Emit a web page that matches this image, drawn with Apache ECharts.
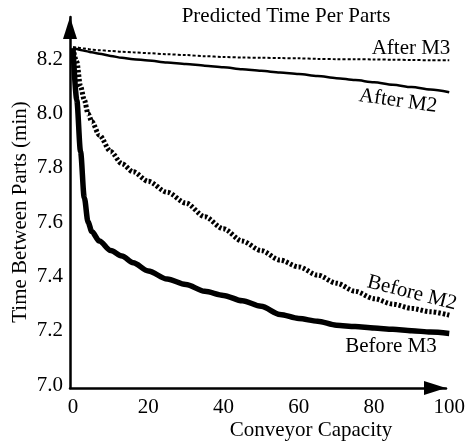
<!DOCTYPE html>
<html>
<head>
<meta charset="utf-8">
<script src="https://cdn.jsdelivr.net/npm/echarts@6/dist/echarts.min.js"></script>
<style>
  html, body { margin: 0; padding: 0; background: #fff; }
  #chart { width: 468px; height: 444px; }
</style>
</head>
<body>
<div id="chart"></div>
<script>
// conveyor capacity (x)
var capacity = [0, 1, 2, 3, 4, 5, 7, 10, 13, 16, 20, 25, 30, 35, 40, 45, 50, 55, 60, 65, 70, 75, 80, 85, 90, 95, 100];

// time between parts (min)
var afterM3 = [8.245, 8.243, 8.241, 8.239, 8.237, 8.235, 8.233, 8.23, 8.227, 8.225, 8.222, 8.218, 8.215, 8.211, 8.208, 8.206, 8.205, 8.204, 8.203, 8.201, 8.2, 8.2, 8.199, 8.198, 8.197, 8.196, 8.196];
var afterM2 = [8.24, 8.237, 8.234, 8.231, 8.228, 8.225, 8.22, 8.212, 8.205, 8.2, 8.195, 8.188, 8.182, 8.176, 8.17, 8.163, 8.157, 8.151, 8.145, 8.138, 8.13, 8.123, 8.115, 8.106, 8.097, 8.088, 8.078];
var beforeM2 = [8.24, 8.19, 8.10, 8.05, 8.00, 7.97, 7.92, 7.86, 7.815, 7.785, 7.75, 7.71, 7.67, 7.62, 7.575, 7.53, 7.495, 7.46, 7.435, 7.405, 7.375, 7.345, 7.318, 7.298, 7.282, 7.27, 7.257];
var beforeM3 = [8.24, 8.05, 7.86, 7.69, 7.60, 7.565, 7.53, 7.495, 7.475, 7.45, 7.42, 7.39, 7.37, 7.345, 7.33, 7.31, 7.29, 7.26, 7.245, 7.235, 7.22, 7.215, 7.21, 7.205, 7.2, 7.195, 7.19];

var xTicks = { min: 0, max: 100, interval: 20 };
var yTicks = { min: 7.0, max: 8.3, interval: 0.2 };

var FONT = 'Liberation Serif';

function pairs(ys) {
    return capacity.map(function (x, i) { return [x, ys[i]]; });
}

function curve(name, ys, width, dash) {
    return {
        name: name,
        type: 'line',
        xAxisIndex: 0,
        yAxisIndex: 0,
        data: pairs(ys),
        showSymbol: false,
        smooth: 0.3,
        smoothMonotone: 'x',
        lineStyle: { color: '#000', width: width, type: dash, cap: 'butt' },
        z: 3
    };
}

// axis with arrow (drawn on its own grid so the arrow sits where the picture has it)
var arrowAxis = {
    gridIndex: 1,
    type: 'value',
    min: 0,
    max: 1,
    axisLine: {
        show: true,
        symbol: ['none', 'triangle'],
        symbolSize: [14, 22],
        symbolOffset: [0, -11],
        lineStyle: { color: '#000', width: 2.5 }
    },
    axisTick: { show: false },
    axisLabel: { show: false },
    splitLine: { show: false }
};

var chart = echarts.init(document.getElementById('chart'), null, { renderer: 'canvas' });

chart.setOption({
    animation: false,
    backgroundColor: '#fff',
    textStyle: { fontFamily: FONT, color: '#000' },
    grid: [
        { left: 73, right: 16, top: 32, bottom: 59 },
        { left: 70, right: 22, top: 17, bottom: 56 }
    ],
    xAxis: [
        {
            gridIndex: 0,
            type: 'value',
            min: xTicks.min,
            max: xTicks.max,
            interval: xTicks.interval,
            axisLine: { show: false },
            axisTick: { show: false },
            splitLine: { show: false },
            axisLabel: { fontFamily: FONT, fontSize: 21, color: '#000', margin: 12 }
        },
        arrowAxis
    ],
    yAxis: [
        {
            gridIndex: 0,
            type: 'value',
            min: yTicks.min,
            max: yTicks.max,
            interval: yTicks.interval,
            axisLine: { show: false },
            axisTick: { show: false },
            splitLine: { show: false },
            axisLabel: {
                fontFamily: FONT, fontSize: 21, color: '#000', margin: 10,
                showMaxLabel: false,
                formatter: function (v) { return v.toFixed(1); }
            }
        },
        Object.assign({}, arrowAxis)
    ],
    series: [
        curve('After M3', afterM3, 2, [3, 2]),
        curve('After M2', afterM2, 2.5, 'solid'),
        curve('Before M2', beforeM2, 5, [2.5, 2]),
        curve('Before M3', beforeM3, 5.5, 'solid')
    ],
    graphic: [
        { type: 'text', x: 286, y: 16, style: { text: 'Predicted Time Per Parts', font: '21px ' + FONT, fill: '#000', align: 'center', verticalAlign: 'middle' } },
        { type: 'text', x: 311, y: 430, style: { text: 'Conveyor Capacity', font: '21px ' + FONT, fill: '#000', align: 'center', verticalAlign: 'middle' } },
        { type: 'text', x: 20, y: 212, rotation: Math.PI / 2, style: { text: 'Time Between Parts (min)', font: '21px ' + FONT, fill: '#000', align: 'center', verticalAlign: 'middle' } },
        { type: 'text', x: 411, y: 48, style: { text: 'After M3', font: '21px ' + FONT, fill: '#000', align: 'center', verticalAlign: 'middle' } },
        { type: 'text', x: 398, y: 101, rotation: -0.14, style: { text: 'After M2', font: '21px ' + FONT, fill: '#000', align: 'center', verticalAlign: 'middle' } },
        { type: 'text', x: 412, y: 293, rotation: -0.25, style: { text: 'Before M2', font: '21px ' + FONT, fill: '#000', align: 'center', verticalAlign: 'middle' } },
        { type: 'text', x: 391, y: 346, style: { text: 'Before M3', font: '21px ' + FONT, fill: '#000', align: 'center', verticalAlign: 'middle' } }
    ]
});
</script>
</body>
</html>
